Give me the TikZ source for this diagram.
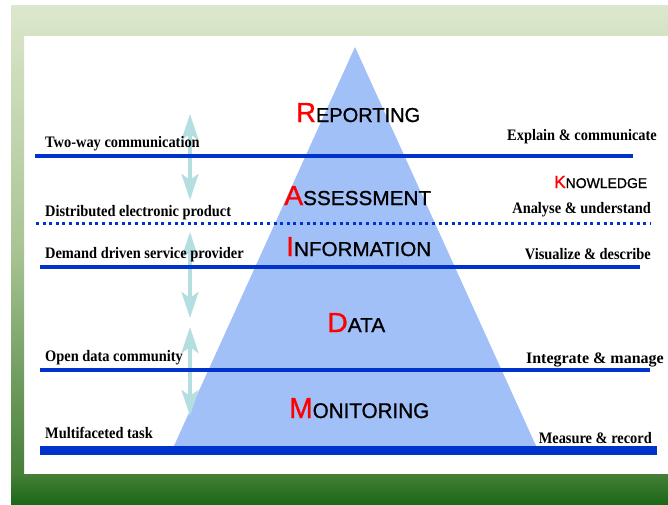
\documentclass[tikz,border=0pt]{standalone}
\usepackage{fontspec}
\setmainfont{Liberation Serif}
\newfontfamily\lblfont{Liberation Serif}[FakeStretch=0.9]
\newfontfamily\lblwidefont{Liberation Serif}[FakeStretch=1.0]
\newfontfamily\capfont{Liberation Sans}[FakeBold=1]
\usetikzlibrary{arrows.meta}
\definecolor{bgtop}{HTML}{DCE8CD}
\definecolor{bgtop2}{HTML}{D5E3C4}
\definecolor{bgmid}{HTML}{A9C494}
\definecolor{bgbandtop}{HTML}{467F38}
\definecolor{bgbot}{HTML}{1C6818}
\definecolor{tri}{HTML}{A2C0F8}
\definecolor{lineblue}{HTML}{0033CC}
\definecolor{arrowcol}{HTML}{B4DEE0}
% #1 width, #2 height, #3 big size, #4 small size, #5 first letter, #6 rest
\newcommand\lvltext[6]{\resizebox{#1}{#2}{\capfont{\color{red}\fontsize{#3}{#3}\selectfont #5}\fontsize{#4}{#4}\selectfont #6}}
\tikzset{
  leftlbl/.style={anchor=base west, inner sep=0pt, font=\lblfont\bfseries\fontsize{16}{16}\selectfont},
  rightlbl/.style={anchor=base east, inner sep=0pt, font=\lblfont\bfseries\fontsize{16}{16}\selectfont},
  lvl/.style={anchor=base west, inner sep=0pt},
  hline/.style={draw=lineblue, line width=3.5pt},
  dotline/.style={draw=lineblue, line width=3pt, dash pattern=on 3pt off 3.6pt},
  twoarrow/.style={draw=arrowcol, line width=4pt,
    {Stealth[length=26pt,width=17pt,inset=6pt]}-{Stealth[length=26pt,width=17pt,inset=6pt]}}
}
\begin{document}
\begin{tikzpicture}[x=1pt,y=-1pt]
\useasboundingbox (0,0) rectangle (668,504);
\fill[white] (0,0) rectangle (668,504);
% background frame
\shade[top color=bgtop, bottom color=bgtop2] (11,5) rectangle (668,35);
\shade[top color=bgtop2, bottom color=bgmid] (11,35) rectangle (24,250);
\shade[top color=bgmid, bottom color=bgbandtop] (11,250) rectangle (24,474);
\shade[top color=bgbandtop, bottom color=bgbot] (11,474) rectangle (668,504);
% pyramid
\fill[tri] (355,47) -- (173,448) -- (537,448) -- cycle;
% arrows
\coordinate (a1t) at (190,114); \coordinate (a1b) at (190,200);
\coordinate (a2t) at (190,232); \coordinate (a2b) at (190,318);
\coordinate (a3t) at (190,327); \coordinate (a3b) at (190,416);
\draw[twoarrow] (a1t) -- (a1b);
\draw[twoarrow] (a2t) -- (a2b);
\draw[twoarrow] (a3t) -- (a3b);
% lines
\coordinate (l1a) at (35,156); \coordinate (l1b) at (633,156);
\coordinate (l2a) at (36,223); \coordinate (l2b) at (650,223);
\coordinate (l3a) at (40,267); \coordinate (l3b) at (640,267);
\coordinate (l4a) at (40,370); \coordinate (l4b) at (650,370);
\coordinate (l5a) at (40,450); \coordinate (l5b) at (657,450);
\draw[hline] (l1a) -- (l1b);
\draw[dotline] (l2a) -- (l2b);
\draw[hline] (l3a) -- (l3b);
\draw[hline] (l4a) -- (l4b);
\draw[draw=lineblue, line width=9pt] (l5a) -- (l5b);
% left labels
\node[leftlbl] (t1) at (45,147) {Two-way communication};
\node[leftlbl] (t2) at (45,216) {Distributed electronic product};
\node[leftlbl] (t3) at (45,258) {Demand driven service provider};
\node[leftlbl] (t4) at (45,361) {Open data community};
\node[leftlbl] (t5) at (45,438) {Multifaceted task};
% right labels
\node[rightlbl] (r1) at (657,140) {Explain \& communicate};
\node[rightlbl] (r2) at (651,213) {Analyse \& understand};
\node[rightlbl] (r3) at (651,259) {Visualize \& describe};
\node[rightlbl, font=\lblwidefont\bfseries\fontsize{16}{16}\selectfont] (r4) at (664,363) {Integrate \& manage};
\node[rightlbl] (r5) at (652,443) {Measure \& record};
% levels
\node[lvl] (rep) at (296,122) {\lvltext{124pt}{19pt}{26}{19}{R}{EPORTING}};
\node[lvl] (ass) at (284,205) {\lvltext{147pt}{19pt}{26}{19}{A}{SSESSMENT}};
\node[lvl] (inf) at (286,256) {\lvltext{145pt}{19pt}{26}{19}{I}{NFORMATION}};
\node[lvl] (dat) at (327,332) {\lvltext{58pt}{19pt}{26}{19}{D}{ATA}};
\node[lvl] (mon) at (289,418) {\lvltext{140pt}{20pt}{26}{19}{M}{ONITORING}};
\node[lvl] (kno) at (554,188) {\lvltext{93pt}{12pt}{16}{13}{K}{NOWLEDGE}};
\end{tikzpicture}
\end{document}
